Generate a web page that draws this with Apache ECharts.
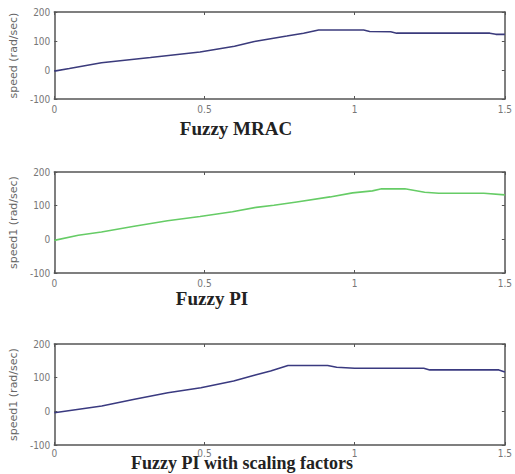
<!DOCTYPE html>
<html>
<head>
<meta charset="utf-8">
<script src="https://cdn.jsdelivr.net/npm/echarts@6/dist/echarts.min.js"></script>
<style>
html,body{margin:0;padding:0;background:#fff;}
#c{width:515px;height:474px;}
</style>
</head>
<body>
<div id="c"></div>
<script>
// ---- data ----
const xTicks = [0, 0.5, 1, 1.5];
const yTicks = [-100, 0, 100, 200];

const mracTime  = [0, 0.05, 0.157, 0.32, 0.485, 0.6, 0.666, 0.774, 0.83, 0.88, 1.03, 1.05, 1.12, 1.14, 1.45, 1.47, 1.5];
const mracSpeed = [-4, 5, 25, 43, 62, 82, 98, 117, 127, 138, 138, 133, 132, 127, 127, 123, 123];

const piTime  = [0, 0.08, 0.157, 0.266, 0.377, 0.485, 0.593, 0.672, 0.731, 0.807, 0.918, 0.993, 1.059, 1.09, 1.167, 1.233, 1.28, 1.43, 1.5];
const piSpeed = [-3, 12, 22, 39, 55, 68, 82, 95, 101, 111, 126, 138, 144, 150, 150, 140, 137, 137, 132];

const sfTime  = [0, 0.158, 0.267, 0.378, 0.488, 0.597, 0.669, 0.72, 0.778, 0.91, 0.94, 1.0, 1.23, 1.25, 1.48, 1.5];
const sfSpeed = [-4, 16, 36, 55, 70, 90, 108, 120, 136, 136, 131, 128, 128, 123, 123, 117];

const panelTitles = ['Fuzzy MRAC', 'Fuzzy PI', 'Fuzzy PI with scaling factors'];
const yNames = ['speed (rad/sec)', 'speed1 (rad/sec)', 'speed1 (rad/sec)'];

// ---- layout ----
const grids = [
  {left: 52, top: 12,  width: 457, height: 87},
  {left: 52, top: 172, width: 458, height: 101},
  {left: 52, top: 344, width: 455, height: 101}
];
const titlePos = [[236, 128, 19], [212, 298, 19], [242, 463, 18]];
const lineColors = ['#3b3b7c', '#66cc66', '#3a3a80'];
const series = [[mracTime, mracSpeed], [piTime, piSpeed], [sfTime, sfSpeed]];

const tickFont = "'Liberation Sans Narrow','DejaVu Sans Condensed',sans-serif";
const frameColor = '#555';

const xAxes = [], yAxes = [], seriesList = [], graphics = [];
grids.forEach((g, i) => {
  const base = {
    type: 'value', gridIndex: i, min: 0, max: 1.5, interval: 0.5,
    splitLine: {show: false},
    axisLine: {show: true, onZero: false, lineStyle: {color: frameColor, width: 1.5}},
    axisTick: {show: true, inside: true, length: 3, lineStyle: {color: frameColor}}
  };
  xAxes.push(Object.assign({}, base, {
    position: 'bottom',
    axisLabel: {show: true, color: '#777', fontSize: 10, fontFamily: tickFont, margin: i === 2 ? 3 : 5,
      formatter: v => String(v)}
  }));
  xAxes.push(Object.assign({}, base, {position: 'top', axisLabel: {show: false}}));
  const ybase = {
    type: 'value', gridIndex: i, min: -100, max: 200, interval: 100,
    splitLine: {show: false},
    axisLine: {show: true, onZero: false, lineStyle: {color: frameColor, width: 1.5}},
    axisTick: {show: true, inside: true, length: 3, lineStyle: {color: frameColor}}
  };
  yAxes.push(Object.assign({}, ybase, {
    position: 'left',
    name: yNames[i], nameLocation: 'middle', nameGap: 29, nameRotate: 90,
    nameTextStyle: {color: '#666', fontSize: 11, fontFamily: "'DejaVu Sans', sans-serif"},
    axisLabel: {show: true, color: '#777', fontSize: 10, fontFamily: tickFont, margin: 4}
  }));
  yAxes.push(Object.assign({}, ybase, {position: 'right', axisLabel: {show: false}}));

  const [t, v] = series[i];
  seriesList.push({
    type: 'line', xAxisIndex: 2 * i, yAxisIndex: 2 * i,
    data: t.map((tt, k) => [tt, v[k]]),
    showSymbol: false, symbol: 'none',
    lineStyle: {color: lineColors[i], width: 1.6},
    animation: false
  });
  graphics.push({
    type: 'text', x: titlePos[i][0], y: titlePos[i][1],
    style: {text: panelTitles[i], fill: '#222',
      font: "bold " + titlePos[i][2] + "px 'Liberation Serif', serif",
      textAlign: 'center', textVerticalAlign: 'middle'}
  });
});

const chart = echarts.init(document.getElementById('c'), null, {renderer: 'svg'});
chart.setOption({
  animation: false,
  backgroundColor: '#fff',
  grid: grids,
  xAxis: xAxes,
  yAxis: yAxes,
  series: seriesList,
  graphic: graphics
});
</script>
</body>
</html>
